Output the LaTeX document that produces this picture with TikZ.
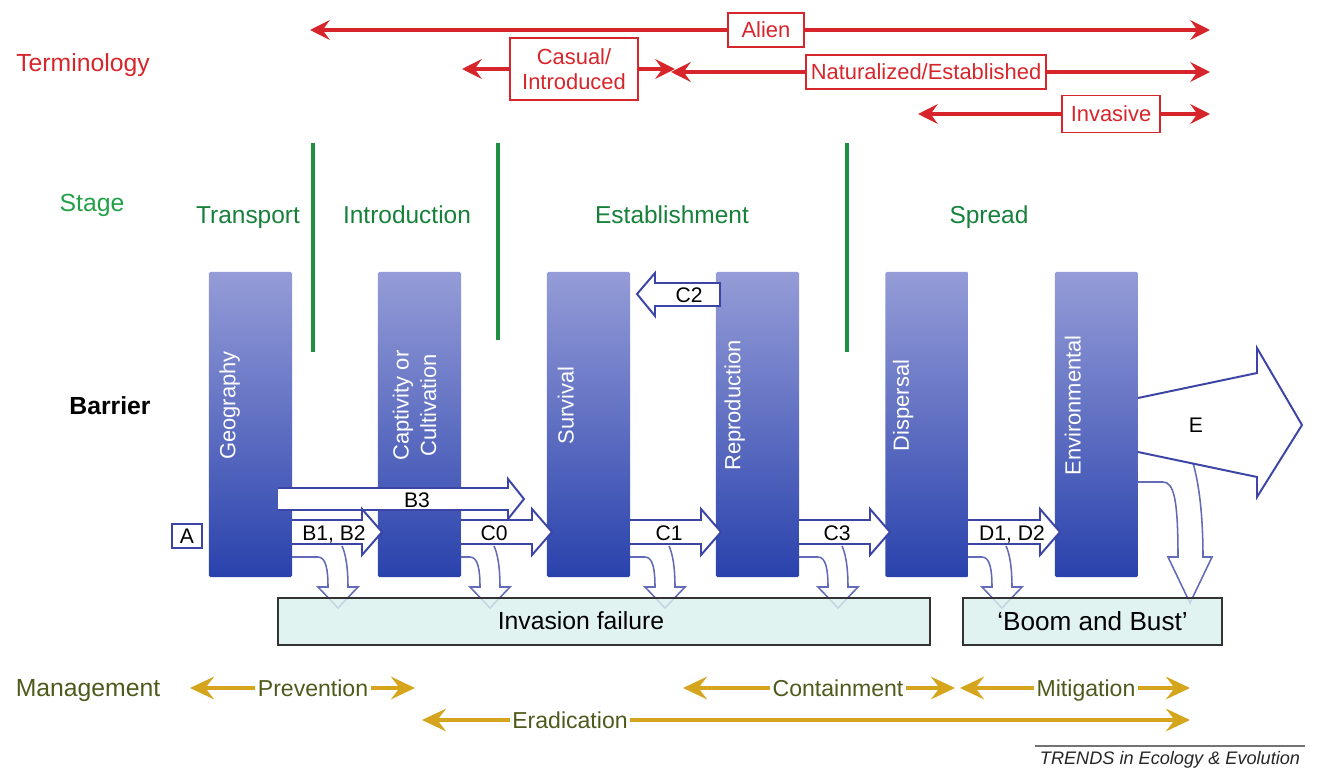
\documentclass[tikz,border=0pt]{standalone}
\usepackage{fontspec}
\setmainfont{Liberation Sans}
\usetikzlibrary{arrows.meta,calc,positioning}
\definecolor{termred}{HTML}{D7262B}
\definecolor{stagegreen}{HTML}{22A048}
\definecolor{stagedark}{HTML}{17803A}
\definecolor{mgmttext}{HTML}{4E5A1C}
\definecolor{mgmtgold}{HTML}{D6A51E}
\definecolor{barlight}{HTML}{959CD7}
\definecolor{barmid}{HTML}{2E47B2}
\definecolor{bardark}{HTML}{2942AC}
\definecolor{arrowblue}{HTML}{3C45A6}
\definecolor{failfill}{HTML}{DAF0EE}
\def\failarrow(#1:#2){\filldraw[failarrow] (#1,557) -- ({#1+#2-20},557) .. controls ({#1+#2-12},557) and ({#1+#2-10},570) .. ({#1+#2-10},587) -- ({#1+#2-20},587) -- ({#1+#2},608) -- ({#1+#2+20},587) -- ({#1+#2+10},587) .. controls ({#1+#2+10},565) and ({#1+#2+7},552) .. ({#1+#2+4},546);}
\tikzset{
	bar/.style={minimum width=2.075cm, minimum height=7.625cm, inner sep=0, top color=barlight, middle color=barmid, bottom color=bardark, rounded corners=1pt},
	barlabel/.style={text=white, rotate=90, align=center, font=\fontsize{15.6pt}{19.5pt}\selectfont},
	blockarrow/.style={draw=arrowblue, fill=white, line width=1.4pt},
	failarrow/.style={draw=arrowblue!80!white, fill=white, line width=1.1pt},
	oneline/.style={text height=#1, text depth=0pt},
	arrowlabel/.style={oneline=10.7pt, inner sep=0, font=\fontsize{15pt}{18pt}\selectfont},
	termbox/.style={draw=termred, fill=white, line width=1.4pt, text=termred, inner sep=1pt, align=center, font=\fontsize{15.6pt}{17.5pt}\selectfont},
	termarrow/.style={draw=termred, line width=3pt, -{Stealth[length=14pt,width=14pt,inset=5pt]}},
	mgmt/.style={oneline=11.7pt, text=mgmttext, inner sep=1.5pt, font=\fontsize{16.4pt}{19pt}\selectfont},
	mgmtarrow/.style={draw=mgmtgold, line width=2.8pt, -{Stealth[length=17pt,width=16pt,inset=6pt]}},
	stage/.style={oneline=12.5pt, text=stagedark, font=\fontsize{17.4pt}{20pt}\selectfont},
	stageline/.style={draw=stagegreen!90!black, line width=2.2pt},
	endbox/.style={draw=black!80, line width=1.4pt, fill=failfill, fill opacity=0.8, text opacity=1, inner sep=0}
}

\begin{document}
\begin{tikzpicture}[x=0.025cm, y=-0.025cm]
	%%%%% START %%%%%
	\useasboundingbox (0,0) rectangle (1330,769);
	
	% row titles
	\node[oneline=12.6pt, text=termred, font=\fontsize{17.6pt}{20pt}\selectfont] (terminology) at (83,63) {Terminology};
	\node[oneline=12.6pt, text=stagegreen, font=\fontsize{17.6pt}{20pt}\selectfont] (stage) at (92,203) {Stage};
	\node[oneline=12.6pt, font=\bfseries\fontsize{17.6pt}{20pt}\selectfont] (barrier) at (110,406) {Barrier};
	\node[mgmt, oneline=12.6pt, font=\fontsize{17.6pt}{20pt}\selectfont] (management) at (88,688) {Management};
	
	% terminology
	\node[termbox, minimum width=1.9cm, minimum height=0.85cm] (alien) at (766,30) {Alien};
	\coordinate (alienL) at (310,30);
	\coordinate (alienR) at (1210,30);
	\draw[termarrow] (alien) -- (alienL);
	\draw[termarrow] (alien) -- (alienR);
	
	\node[termbox, minimum width=3.2cm, minimum height=1.55cm] (casual) at (574,69) {Casual/\\Introduced};
	\coordinate (casualL) at (462,69);
	\coordinate (casualR) at (675,69);
	\draw[termarrow] (casual) -- (casualL);
	\draw[termarrow] (casual) -- (casualR);
	
	\node[termbox, minimum width=6cm, minimum height=0.85cm] (natural) at (926,72) {Naturalized/Established};
	\coordinate (naturalL) at (671,72);
	\coordinate (naturalR) at (1210,72);
	\draw[termarrow] (natural) -- (naturalL);
	\draw[termarrow] (natural) -- (naturalR);
	
	\node[termbox, minimum width=2.45cm, minimum height=0.925cm] (invasive) at (1111,114) {Invasive};
	\coordinate (invasiveL) at (918,114);
	\coordinate (invasiveR) at (1210,114);
	\draw[termarrow] (invasive) -- (invasiveL);
	\draw[termarrow] (invasive) -- (invasiveR);
	
	% stages
	\node[stage] (transport) at (248,215) {Transport};
	\node[stage] (introduction) at (407,215) {Introduction};
	\node[stage] (establishment) at (672,215) {Establishment};
	\node[stage] (spread) at (989,215) {Spread};
	\draw[stageline] (313,143) -- (313,352);
	\draw[stageline] (498,143) -- (498,340);
	\draw[stageline] (847,143) -- (847,352);
	
	% barriers
	\node[bar] (geo) at (250.5,424.5) {};
	\node[bar] (capt) at (419.5,424.5) {};
	\node[bar] (surv) at (588.5,424.5) {};
	\node[bar] (repr) at (757.5,424.5) {};
	\node[bar] (disp) at (927,424.5) {};
	\node[bar] (envi) at (1096.5,424.5) {};
	
	\node[barlabel] (geotxt) at ($(geo.west)+(21,-19)$) {Geography};
	\node[barlabel] (capttxt) at ($(capt.center)+(-5,-19)$) {Captivity or\\Cultivation};
	\node[barlabel] (survtxt) at ($(surv.west)+(19,-19)$) {Survival};
	\node[barlabel] (reprtxt) at ($(repr.west)+(19,-19)$) {Reproduction};
	\node[barlabel] (disptxt) at ($(disp.west)+(18,-19)$) {Dispersal};
	\node[barlabel] (envitxt) at ($(envi.west)+(18,-19)$) {Environmental};
	
	% losses
	\failarrow(292:46)
	\failarrow(461:29)
	\failarrow(630:35)
	\failarrow(799:39)
	\failarrow(968:34)
	\filldraw[failarrow] (1138,482) -- (1163,482) .. controls (1174,482) and (1178,500) .. (1178,557) -- (1168,557) -- (1190,603) -- (1212,557) -- (1203,557) .. controls (1203,510) and (1198,480) .. (1193,463);
	
	% transitions
	\node[draw=arrowblue, line width=1.4pt, minimum width=0.75cm, minimum height=0.6cm, inner sep=0, font=\fontsize{15pt}{18pt}\selectfont] (a) at (187,536) {A};
	
	\filldraw[blockarrow] (278,488) -- (508,488) -- (508,479) -- (524,499) -- (508,519) -- (508,510) -- (278,510);
	\node[arrowlabel] (b3) at (417,500) {B3};
	
	\filldraw[blockarrow] (292,520) -- (362,520) -- (362,509) -- (382,532) -- (362,555) -- (362,544) -- (292,544);
	\node[arrowlabel] (b12) at (334,533) {B1, B2};
	\filldraw[blockarrow] (461,520) -- (532,520) -- (532,509) -- (552,532) -- (532,555) -- (532,544) -- (461,544);
	\node[arrowlabel] (c0) at (494,533) {C0};
	\filldraw[blockarrow] (630,520) -- (701,520) -- (701,509) -- (721,532) -- (701,555) -- (701,544) -- (630,544);
	\node[arrowlabel] (c1) at (669,533) {C1};
	\filldraw[blockarrow] (799,520) -- (870,520) -- (870,509) -- (890,532) -- (870,555) -- (870,544) -- (799,544);
	\node[arrowlabel] (c3) at (837,533) {C3};
	\filldraw[blockarrow] (968,520) -- (1040,520) -- (1040,509) -- (1060,532) -- (1040,555) -- (1040,544) -- (968,544);
	\node[arrowlabel] (d12) at (1012,533) {D1, D2};
	
	\filldraw[blockarrow] (720,283) -- (655,283) -- (655,273) -- (637,294) -- (655,316) -- (655,306) -- (720,306) -- cycle;
	\node[arrowlabel] (c2) at (689,295) {C2};
	
	\filldraw[blockarrow] (1138,398) -- (1257,373) -- (1257,348) -- (1302,425) -- (1257,497) -- (1257,477) -- (1138,452);
	\node[arrowlabel] (e) at (1196,425) {E};
	
	% outcomes
	\node[endbox, minimum width=16.3cm, minimum height=1.175cm] (fail) at (604,621.5) {};
	\node[oneline=12.6pt, font=\fontsize{17.6pt}{20pt}\selectfont] (failtxt) at (581,621) {Invasion failure};
	\node[endbox, oneline=13.3pt, minimum width=6.475cm, minimum height=1.175cm, font=\fontsize{18.6pt}{21pt}\selectfont] (boom) at (1092.5,621.5) {`Boom and Bust'};
	
	% management
	\node[mgmt] (prev) at (313,688) {Prevention};
	\coordinate (prevL) at (190,688);
	\coordinate (prevR) at (415,688);
	\draw[mgmtarrow] (prev) -- (prevL);
	\draw[mgmtarrow] (prev) -- (prevR);
	
	\node[mgmt] (cont) at (838,688) {Containment};
	\coordinate (contL) at (683,688);
	\coordinate (contR) at (955,688);
	\draw[mgmtarrow] (cont) -- (contL);
	\draw[mgmtarrow] (cont) -- (contR);
	
	\node[mgmt] (miti) at (1086,688) {Mitigation};
	\coordinate (mitiL) at (960,688);
	\coordinate (mitiR) at (1190,688);
	\draw[mgmtarrow] (miti) -- (mitiL);
	\draw[mgmtarrow] (miti) -- (mitiR);
	
	\node[mgmt] (erad) at (570,720) {Eradication};
	\coordinate (eradL) at (422,720);
	\coordinate (eradR) at (1190,720);
	\draw[mgmtarrow] (erad) -- (eradL);
	\draw[mgmtarrow] (erad) -- (eradR);
	
	% credit
	\draw[black!55, line width=2pt] (1035,746) -- (1305,746);
	\node[font=\itshape\fontsize{12.9pt}{14pt}\selectfont, text=black!85] (credit) at (1170,760) {TRENDS in Ecology \& Evolution};
	%%%%% END %%%%%
\end{tikzpicture}
\end{document}
